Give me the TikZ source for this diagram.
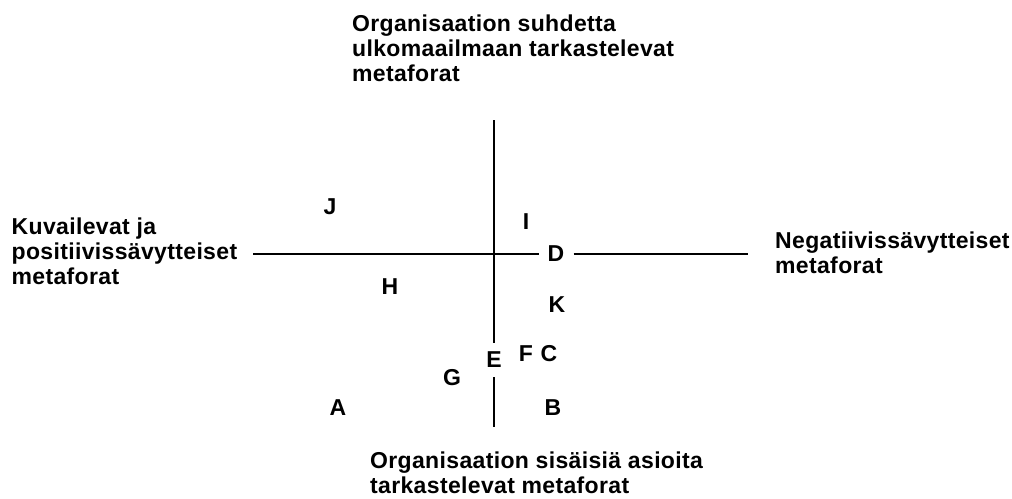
\documentclass[tikz,border=0pt]{standalone}
\usepackage{fontspec}
\setmainfont{Liberation Sans}[LetterSpace=1.5]
\begin{document}
\begin{tikzpicture}[x=1pt,y=-1pt,
  lbl/.style={font=\fontsize{23}{25}\selectfont\bfseries, align=left, anchor=base west, inner sep=0pt},
  ltr/.style={font=\fontsize{23}{25}\selectfont\bfseries, inner sep=9pt},
  axis/.style={line width=1.5pt, black}]
\useasboundingbox (0,0) rectangle (1012,498);
% axis ends
\coordinate (left) at (253,254);
\coordinate (right) at (748,254);
\coordinate (top) at (494,120);
\coordinate (bottom) at (494,427);
% letters
\node[ltr] (J) at (330,207) {J};
\node[ltr] (I) at (526,222) {I};
\node[ltr] (D) at (556,254) {D};
\node[ltr] (H) at (390,287) {H};
\node[ltr] (K) at (557,305) {K};
\node[ltr] (F) at (526,354) {F};
\node[ltr] (C) at (549,354) {C};
\node[ltr] (E) at (494,360) {E};
\node[ltr] (G) at (452,378) {G};
\node[ltr] (A) at (338,408) {A};
\node[ltr] (B) at (553,408) {B};
% axes
\draw[axis] (left) -- (D);
\draw[axis] (D) -- (right);
\draw[axis] (top) -- (E);
\draw[axis] (E) -- (bottom);
% labels (anchored at the baseline of the last line)
\node[lbl] (toplbl) at (352,81.5) {Organisaation suhdetta\\ulkomaailmaan tarkastelevat\\metaforat};
\node[lbl] (leftlbl) at (11.5,284) {Kuvailevat ja\\positiivissävytteiset\\metaforat};
\node[lbl] (rightlbl) at (775,273.5) {Negatiivissävytteiset\\metaforat};
\node[lbl] (botlbl) at (370,493.5) {Organisaation sisäisiä asioita\\tarkastelevat metaforat};
\end{tikzpicture}
\end{document}
